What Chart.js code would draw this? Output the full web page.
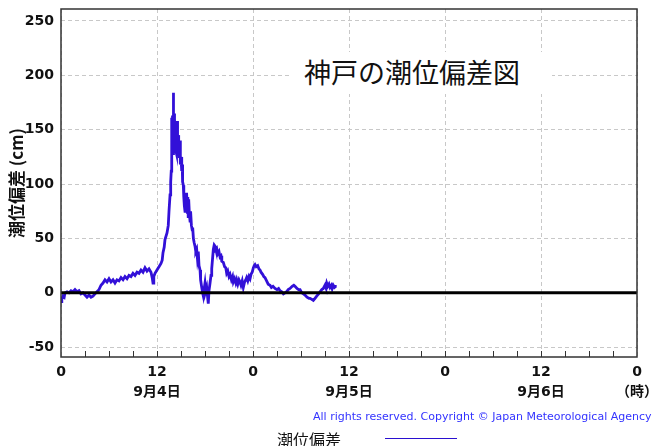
<!DOCTYPE html>
<html>
<head>
<meta charset="utf-8">
<script src="https://cdn.jsdelivr.net/npm/chart.js@4.4.1/dist/chart.umd.min.js"></script>
<style>
html,body{margin:0;padding:0;background:#fff;overflow:hidden;}
#wrap{position:relative;width:667px;height:446px;}
#c{position:absolute;left:0;top:0;}
.ov{position:absolute;white-space:nowrap;}
#ttl{left:292px;top:52px;width:260px;height:42px;background:#fff;font-family:"Noto Sans CJK JP",sans-serif;font-size:27px;line-height:40px;color:#111;padding-left:12px;box-sizing:border-box;}
#copy{left:313px;top:410px;font-family:"DejaVu Sans",sans-serif;font-size:11px;line-height:14px;color:#3333ff;}
#leg{left:277px;top:428px;font-family:"Noto Sans CJK JP",sans-serif;font-size:16px;line-height:22px;color:#111;}
#legline{left:385px;top:438px;width:72px;height:0;border-top:1.5px solid #2a10d0;}
</style>
</head>
<body>
<div id="wrap">
<canvas id="c" width="667" height="446"></canvas>
<div class="ov" id="ttl">神戸の潮位偏差図</div>
<div class="ov" id="copy">All rights reserved. Copyright © Japan Meteorological Agency</div>
<div class="ov" id="leg">潮位偏差</div>
<div class="ov" id="legline"></div>
</div>
<script>
// time in hours from 9/4 00:00
const hours = [
0.0,0.1,0.25,0.4,0.5,0.75,1.0,1.25,1.5,1.75,2.0,2.25,2.5,2.75,3.0,3.25,3.5,3.75,4.0,4.25,4.5,4.75,
5.0,5.25,5.5,5.75,6.0,6.25,6.5,6.75,7.0,7.25,7.5,7.75,8.0,8.25,8.5,8.75,9.0,9.25,9.5,9.75,
10.0,10.25,10.5,10.75,11.0,11.25,11.4,11.5,11.6,11.75,12.0,12.25,12.5,12.65,12.75,12.9,13.0,13.25,
13.41,13.5,13.63,13.71,13.78,13.84,13.88,13.92,13.96,14.0,14.04,14.08,14.13,14.17,14.21,14.25,14.3,
14.38,14.42,14.46,14.5,14.54,14.6,14.65,14.71,14.75,14.8,14.88,14.92,15.0,15.09,15.15,15.2,15.29,
15.35,15.42,15.5,15.55,15.63,15.7,15.79,15.85,15.9,15.96,16.05,16.13,16.2,16.3,16.4,16.46,16.55,
16.65,16.75,16.85,16.96,17.05,17.16,17.25,17.38,17.45,17.59,17.7,17.79,17.9,18.0,18.1,18.21,18.3,
18.41,18.5,18.63,18.75,18.84,18.95,19.04,19.15,19.25,19.35,19.46,19.6,19.75,19.88,20.0,20.1,20.29,
20.45,20.6,20.71,20.85,21.0,21.13,21.3,21.45,21.54,21.7,21.85,21.96,22.1,22.25,22.38,22.5,22.65,
22.79,22.95,23.1,23.21,23.35,23.5,23.63,23.75,23.9,24.04,24.15,24.25,24.4,24.59,24.75,24.88,25.0,
25.2,25.35,25.5,25.7,25.9,26.13,26.3,26.5,26.75,27.0,27.2,27.38,27.6,27.8,28.0,28.2,28.4,28.63,
28.9,29.1,29.25,29.5,29.7,29.88,30.1,30.3,30.5,30.75,31.0,31.13,31.35,31.54,31.75,31.96,32.2,32.38,
32.6,32.79,33.0,33.1,33.21,33.35,33.5,33.63,33.8,33.9,34.04,34.2,34.35,34.46
];
// storm surge (cm)
const surge = [
-8,-6,-3,-4,0,1,0,2,1,3,1,2,-1,0,-2,-4,-2,-4,-3,-1,1,3,
7,9,12,10,13,10,12,9,12,11,14,12,15,13,16,15,18,16,19,18,
21,19,23,20,22,19,14,9,15,18,21,24,27,30,37,42,49,55,
62,75,90,102,112,161,145,163,150,128,184,150,165,132,160,140,158,
130,150,128,145,158,135,145,128,138,124,140,118,125,112,118,102,99,
88,80,75,90,82,92,74,88,70,86,72,66,75,62,58,60,50,
46,43,38,40,32,38,25,21,12,5,0,-3,4,9,2,5,-2,
-10,2,9,16,22,32,40,44,43,40,41,36,38,33,34,29,28,
24,23,18,20,15,17,12,15,10,13,9,12,8,12,10,7,11,
5,10,12,14,11,15,13,17,19,23,25,26,24,25,22,21,19,
17,15,14,11,8,7,5,6,4,3,4,2,1,-1,0,1,3,4,
6,7,6,4,3,3,0,-1,-2,-4,-5,-5,-6,-7,-5,-3,-1,1,
3,4,7,5,9,6,8,5,7,4,7,5,6,6
];
const yTickValues = [-50,0,50,100,150,200,250];
const xTickValues = [0,12,24,36,48,60,72];
const xHourLabels = ['0','12','0','12','0','12','0'];
const xDateLabels = ['','9月4日','','9月5日','','9月6日','（時）'];
const minorTickStep = 3;

const decor = {
  id:'decor',
  afterDraw(chart){
    const {ctx, chartArea:a, scales:{x,y}} = chart;
    ctx.save();
    const y0 = y.getPixelForValue(0);
    ctx.strokeStyle = '#000'; ctx.lineWidth = 3;
    ctx.beginPath(); ctx.moveTo(a.left, y0); ctx.lineTo(a.right, y0); ctx.stroke();
    ctx.strokeStyle = '#333'; ctx.lineWidth = 1;
    for (let h = minorTickStep; h < x.max; h += minorTickStep) {
      const px = Math.round(x.getPixelForValue(h)) + 0.5;
      ctx.beginPath(); ctx.moveTo(px, a.bottom); ctx.lineTo(px, a.bottom - 6); ctx.stroke();
    }
    ctx.strokeStyle = '#333'; ctx.lineWidth = 1.5;
    ctx.strokeRect(a.left, a.top, a.right - a.left, a.bottom - a.top);
    ctx.restore();
  }
};

new Chart(document.getElementById('c'), {
  type:'line',
  data:{datasets:[{
    data: hours.map((h,i)=>({x:h, y:surge[i]})),
    borderColor:'#3210d8', borderWidth:2.8, pointRadius:0, tension:0, fill:false
  }]},
  options:{
    responsive:false, animation:false,
    layout:{padding:{top:9,right:30,left:0,bottom:0}},
    plugins:{legend:{display:false}, tooltip:{enabled:false}},
    scales:{
      x:{type:'linear', min:0, max:72,
        afterBuildTicks(s){ s.ticks = xTickValues.map(v=>({value:v})); },
        afterFit(s){ s.height = 89; },
        grid:{color:'#c8c8c8', lineWidth:1, drawTicks:false},
        border:{display:false, dash:[4,3]},
        ticks:{padding:5, maxRotation:0, autoSkip:false,
          color:'#111',
          font:{family:'"DejaVu Sans","Noto Sans CJK JP",sans-serif', size:14, weight:'bold', lineHeight:1.45},
          callback(v){ const i = xTickValues.indexOf(v); return xDateLabels[i] ? [xHourLabels[i], xDateLabels[i]] : xHourLabels[i]; }
        }
      },
      y:{type:'linear', min:-59, max:261,
        afterBuildTicks(s){ s.ticks = yTickValues.map(v=>({value:v})); },
        afterFit(s){ s.width = 61; s.paddingTop = 0; s.paddingBottom = 0; },
        grid:{color:'#c8c8c8', lineWidth:1, drawTicks:false},
        border:{display:false, dash:[4,3]},
        ticks:{padding:7, color:'#111',
          font:{family:'"DejaVu Sans",sans-serif', size:14, weight:'bold'}},
        title:{display:true, text:'潮位偏差 (cm)', color:'#111', padding:{top:6,bottom:0},
          font:{family:'"Noto Sans CJK JP","DejaVu Sans",sans-serif', size:17, weight:'bold'}}
      }
    }
  },
  plugins:[decor]
});
</script>
</body>
</html>
